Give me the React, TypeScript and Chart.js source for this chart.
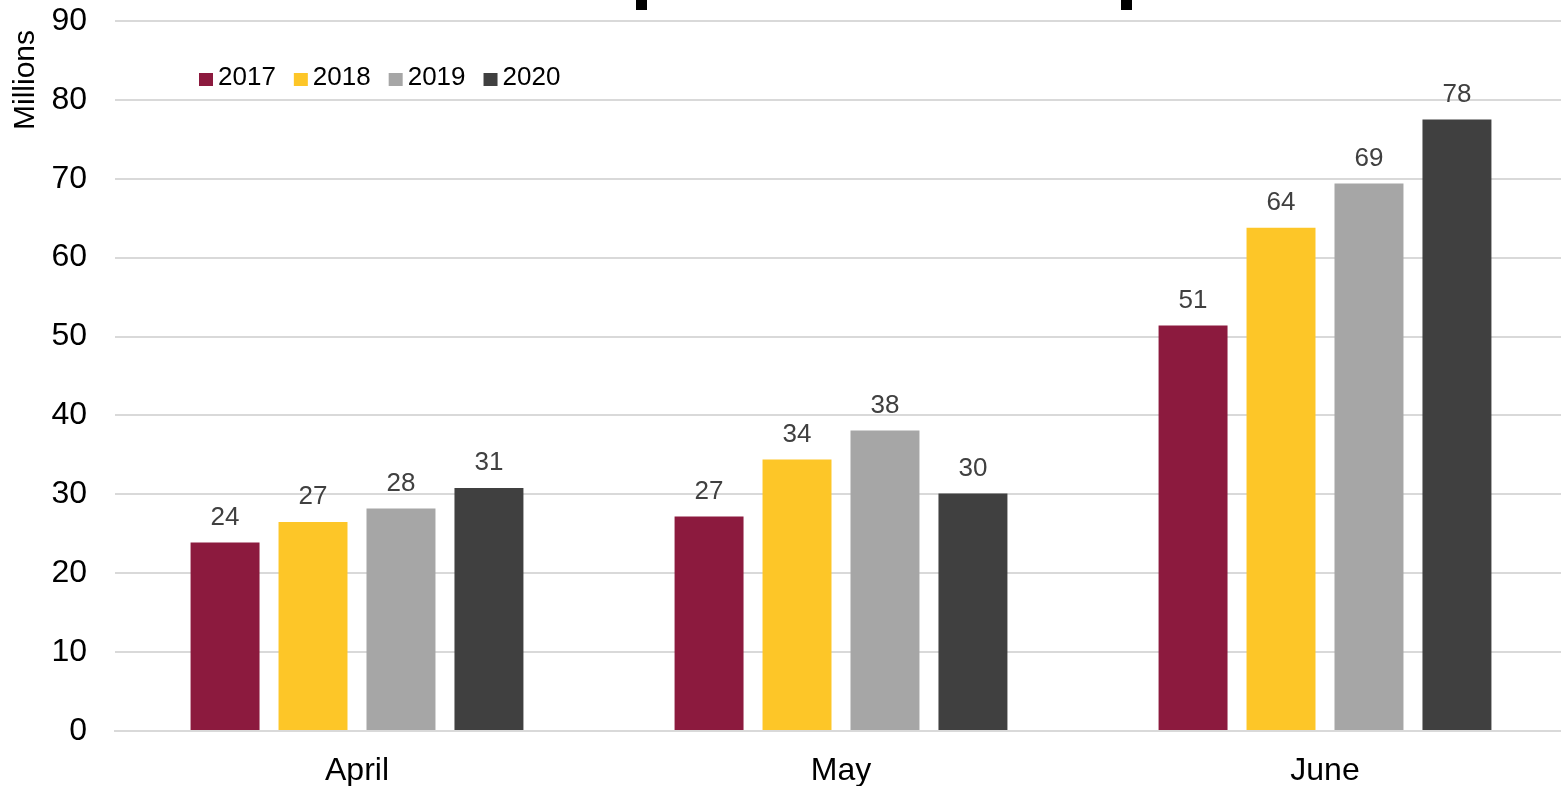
import React, { useEffect, useRef } from "react";
import { Chart, registerables } from "chart.js";

Chart.register(...registerables);

const categories = ["April", "May", "June"];
const seriesNames = ["2017", "2018", "2019", "2020"];
const values2017 = [23.9, 27.2, 51.4];
const values2018 = [26.5, 34.4, 63.8];
const values2019 = [28.2, 38.1, 69.4];
const values2020 = [30.8, 30.1, 77.5];
const seriesColors = ["#8C1A3E", "#FDC628", "#A6A6A6", "#404040"];
const yTicks = [0, 10, 20, 30, 40, 50, 60, 70, 80, 90];
const axisTitle = "Millions";

const FONT = "'Liberation Sans', Arial, sans-serif";

const customPlugin = {
  id: "custom",
  afterDatasetsDraw(chart: any) {
    const ctx = chart.ctx;
    ctx.save();
    // data labels
    ctx.font = `26px ${FONT}`;
    ctx.fillStyle = "#404040";
    ctx.textAlign = "center";
    ctx.textBaseline = "middle";
    chart.data.datasets.forEach((ds: any, di: number) => {
      const meta = chart.getDatasetMeta(di);
      meta.data.forEach((bar: any, i: number) => {
        ctx.fillText(String(Math.round(ds.data[i])), bar.x, bar.y - 25);
      });
    });
    // legend
    const area = chart.chartArea;
    let x = area.left + 84;
    const y = area.top + 56;
    ctx.textAlign = "left";
    chart.data.datasets.forEach((ds: any) => {
      ctx.fillStyle = ds.backgroundColor;
      ctx.fillRect(x, y - 4, 14, 13);
      ctx.fillStyle = "#000000";
      ctx.fillText(ds.label, x + 19, y + 1);
      x += 19 + ctx.measureText(ds.label).width + 18;
    });
    // axis title
    ctx.save();
    ctx.translate(34, 30);
    ctx.rotate(-Math.PI / 2);
    ctx.font = `30px ${FONT}`;
    ctx.textAlign = "right";
    ctx.textBaseline = "alphabetic";
    ctx.fillStyle = "#000000";
    ctx.fillText(axisTitle, 0, 0);
    ctx.restore();
    // cropped title fragments at top
    ctx.fillStyle = "#000000";
    ctx.fillRect(636, 0, 11, 10);
    ctx.fillRect(1121, 0, 11, 10);
    ctx.restore();
  },
};

export default function App() {
  const ref = useRef<HTMLCanvasElement | null>(null);
  useEffect(() => {
    document.body.style.margin = "0";
    document.body.style.overflow = "hidden";
    const datasets = [values2017, values2018, values2019, values2020].map((d, i) => ({
      label: seriesNames[i],
      data: d,
      backgroundColor: seriesColors[i],
      barPercentage: 0.784,
      categoryPercentage: 0.727,
    }));
    const chart = new Chart(ref.current!, {
      type: "bar",
      data: { labels: categories, datasets },
      options: {
        animation: false,
        responsive: false,
        maintainAspectRatio: false,
        layout: { padding: { top: 21, left: 7, right: 0, bottom: 0 } },
        plugins: { legend: { display: false }, tooltip: { enabled: false }, title: { display: false } },
        scales: {
          x: {
            afterFit: (scale: any) => {
              scale.height = 55;
            },
            grid: { display: false, drawTicks: false },
            border: { display: true, color: "#D9D9D9", width: 2 },
            ticks: { color: "#000000", font: { family: FONT, size: 32 }, padding: 21 },
          },
          y: {
            min: 0,
            max: 90,
            afterFit: (scale: any) => {
              scale.width = 108;
              scale.paddingTop = 0;
              scale.paddingBottom = 0;
            },
            afterBuildTicks: (scale: any) => {
              scale.ticks = yTicks.map((v) => ({ value: v }));
            },
            grid: { color: "#D9D9D9", lineWidth: 2, drawTicks: false },
            border: { display: false },
            ticks: { color: "#000000", font: { family: FONT, size: 32 }, padding: 28 },
          },
        },
      },
      plugins: [customPlugin],
    });
    return () => chart.destroy();
  }, []);
  return (
    <div style={{ width: 1561, height: 786, overflow: "hidden" }}>
      <canvas ref={ref} width={1567} height={786} style={{ display: "block", width: 1567, height: 786 }} />
    </div>
  );
}
